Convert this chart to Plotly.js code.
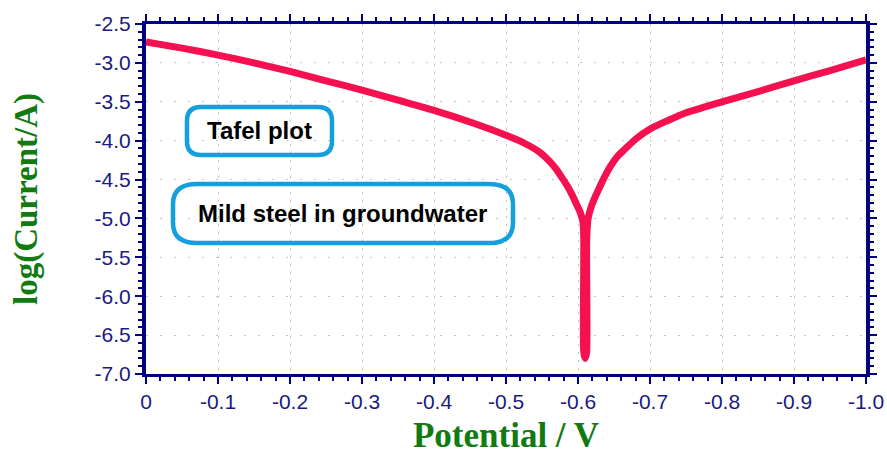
<!DOCTYPE html>
<html>
<head>
<meta charset="utf-8">
<script src="https://cdn.plot.ly/plotly-3.0.1.min.js"></script>
<style>
  html, body { margin: 0; padding: 0; background: #fff; }
  #chart { width: 887px; height: 455px; }
</style>
</head>
<body>
<div id="chart"></div>
<script>
// Potential (V) and log(Current/A)
const potential = [0, -0.05, -0.1, -0.15, -0.2, -0.25, -0.3, -0.35, -0.4, -0.45, -0.5, -0.525, -0.547, -0.56, -0.57, -0.578, -0.585, -0.592, -0.598, -0.603, -0.607, -0.608, -0.608, -0.610,
                   -0.612, -0.612, -0.614, -0.618, -0.624, -0.63, -0.635, -0.645, -0.655, -0.665, -0.68, -0.7, -0.725, -0.75, -0.775, -0.8, -0.85, -0.9, -0.95, -1.0];
const logCurrent = [-2.73, -2.81, -2.90, -3.00, -3.11, -3.23, -3.35, -3.48, -3.61, -3.76, -3.93, -4.03, -4.15, -4.26, -4.37, -4.48, -4.58, -4.70, -4.82, -4.92, -5.05, -5.30, -6.72, -6.80,
                    -6.72, -5.30, -5.00, -4.86, -4.72, -4.60, -4.50, -4.33, -4.20, -4.11, -3.98, -3.85, -3.74, -3.64, -3.57, -3.50, -3.37, -3.23, -3.10, -2.96];

const xTickVals = [0, -0.1, -0.2, -0.3, -0.4, -0.5, -0.6, -0.7, -0.8, -0.9, -1.0];
const xTickText = ["0", "-0.1", "-0.2", "-0.3", "-0.4", "-0.5", "-0.6", "-0.7", "-0.8", "-0.9", "-1.0"];
const yTickVals = [-2.5, -3.0, -3.5, -4.0, -4.5, -5.0, -5.5, -6.0, -6.5, -7.0];
const yTickText = ["-2.5", "-3.0", "-3.5", "-4.0", "-4.5", "-5.0", "-5.5", "-6.0", "-6.5", "-7.0"];

const labels = ["Tafel plot", "Mild steel in groundwater"];

const navy = "#000080";
const tickFont = { family: "Liberation Sans, Arial, sans-serif", size: 21, color: "#1a1a80" };
const titleFont = { family: "Liberation Serif, Times New Roman, serif", color: "#117a11" };

function roundRect(x0, y0, x1, y1, rxPx, ryPx) {
  const rx = rxPx / 720, ry = ryPx / 350;
  return `M ${x0 + rx},${y0} L ${x1 - rx},${y0} Q ${x1},${y0} ${x1},${y0 + ry} ` +
         `L ${x1},${y1 - ry} Q ${x1},${y1} ${x1 - rx},${y1} L ${x0 + rx},${y1} ` +
         `Q ${x0},${y1} ${x0},${y1 - ry} L ${x0},${y0 + ry} Q ${x0},${y0} ${x0 + rx},${y0} Z`;
}

const boxColor = "#14a0dc";

const trace = {
  x: potential,
  y: logCurrent,
  type: "scatter",
  mode: "lines",
  line: { color: "#f5104f", width: 7, shape: "spline", smoothing: 0.6 },
  hoverinfo: "skip"
};

const layout = {
  width: 887,
  height: 455,
  margin: { l: 146, r: 21, t: 24, b: 81 },
  paper_bgcolor: "#ffffff",
  plot_bgcolor: "#ffffff",
  showlegend: false,
  xaxis: {
    range: [0, -1.0],
    autorange: false,
    tickmode: "array",
    tickvals: xTickVals,
    ticktext: xTickText,
    tickfont: tickFont,
    ticks: "outside",
    ticklen: 7,
    tickwidth: 2,
    tickcolor: navy,
    showline: true,
    linecolor: navy,
    linewidth: 3,
    mirror: "allticks",
    showgrid: true,
    gridcolor: "#c4c4b4",
    gridwidth: 1,
    griddash: "2px,6px",
    zeroline: false,
    minor: { tickmode: "linear", tick0: 0, dtick: 0.02, ticks: "outside", ticklen: 4, tickwidth: 2, tickcolor: navy, showgrid: false },
    title: { text: "Potential / V", font: Object.assign({ size: 35, weight: "bold" }, titleFont), standoff: 12 },
    automargin: false
  },
  yaxis: {
    range: [-7.0, -2.5],
    autorange: false,
    tickmode: "array",
    tickvals: yTickVals,
    ticktext: yTickText,
    tickfont: tickFont,
    ticks: "outside",
    ticklen: 7,
    tickwidth: 2,
    tickcolor: navy,
    showline: true,
    linecolor: navy,
    linewidth: 4,
    mirror: "allticks",
    showgrid: true,
    gridcolor: "#c4c4b4",
    gridwidth: 1,
    griddash: "2px,12px",
    zeroline: false,
    minor: { tickmode: "linear", tick0: 0, dtick: 0.1, ticks: "outside", ticklen: 4, tickwidth: 2, tickcolor: navy, showgrid: false },
    title: { text: "log(Current/A)", font: Object.assign({ size: 33, weight: "bold" }, titleFont), standoff: 48 },
    automargin: false
  },
  shapes: [
    { type: "path", xref: "paper", yref: "paper", path: roundRect(0.0569, 0.6257, 0.2583, 0.7629, 14, 14), line: { color: boxColor, width: 4.5 }, fillcolor: "rgba(0,0,0,0)" },
    { type: "path", xref: "paper", yref: "paper", path: roundRect(0.0375, 0.3743, 0.5097, 0.5429, 24, 20), line: { color: boxColor, width: 4.5 }, fillcolor: "rgba(0,0,0,0)" }
  ],
  annotations: [
    { xref: "paper", yref: "paper", x: 0.1576, y: 0.6943, text: labels[0], showarrow: false, xanchor: "center", yanchor: "middle",
      font: { family: "Liberation Sans, Arial, sans-serif", size: 24, color: "#000000", weight: "bold" } },
    { xref: "paper", yref: "paper", x: 0.2736, y: 0.4586, text: labels[1], showarrow: false, xanchor: "center", yanchor: "middle",
      font: { family: "Liberation Sans, Arial, sans-serif", size: 24, color: "#000000", weight: "bold" } }
  ]
};

Plotly.newPlot("chart", [trace], layout, { staticPlot: true, displayModeBar: false });
</script>
</body>
</html>
